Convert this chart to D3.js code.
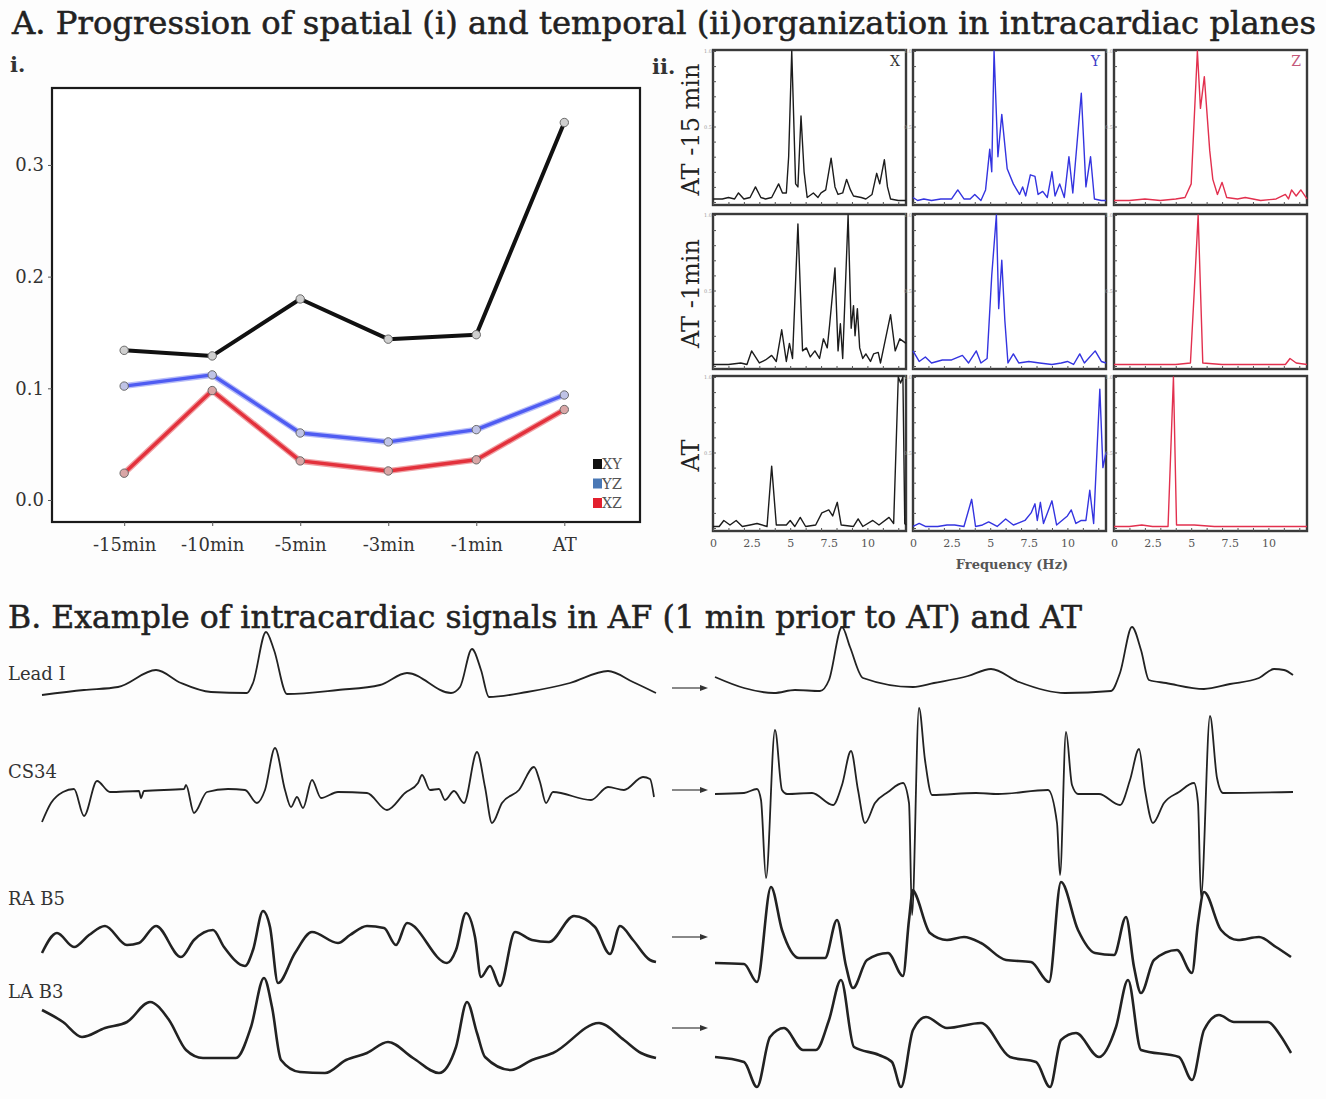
<!DOCTYPE html>
<html>
<head>
<meta charset="utf-8">
<script src="https://cdn.jsdelivr.net/npm/d3@7"></script>
<style>
  body { margin: 0; background: #fff; }
  svg { display: block; }
</style>
</head>
<body>
<div id="figure"></div>
<script>
// GLOBAL DATA
// panel A.i - spatial organization per plane
let TIME_POINTS = ["-15min", "-10min", "-5min", "-3min", "-1min", "AT"]
let XY_VALUES = [0.134, 0.129, 0.180, 0.144, 0.148, 0.338]
let YZ_VALUES = [0.102, 0.112, 0.060, 0.052, 0.063, 0.094]
let XZ_VALUES = [0.024, 0.098, 0.035, 0.026, 0.036, 0.081]
let Y_TICKS = [0.0, 0.1, 0.2, 0.3]
let PLANES = ["XY", "YZ", "XZ"]

// panel A.ii - normalized spectra [Hz, power]
let ROW_LABELS = ["AT -15 min", "AT -1min", "AT"]
let COL_LABELS = ["X", "Y", "Z"]
let FREQ_TICKS = [0, 2.5, 5, 7.5, 10]
let SPEC_M15_X = [[0,0.02],[0.6,0.02],[1.0,0.03],[1.4,0.02],[1.65,0.06],[2.0,0.02],[2.4,0.03],[2.75,0.1],[3.1,0.03],[3.4,0.02],[3.8,0.03],[4.25,0.12],[4.5,0.06],[4.75,0.06],[4.9,0.3],[5.1,1.0],[5.35,0.12],[5.5,0.1],[5.7,0.57],[5.9,0.2],[6.1,0.03],[6.5,0.06],[6.8,0.03],[7.0,0.06],[7.3,0.08],[7.65,0.29],[7.9,0.1],[8.1,0.05],[8.4,0.06],[8.65,0.15],[8.9,0.08],[9.1,0.04],[9.6,0.03],[9.9,0.02],[10.3,0.05],[10.6,0.19],[10.8,0.12],[11.1,0.28],[11.3,0.1],[11.5,0.02],[12.0,0.01],[12.5,0.01]]
let SPEC_M15_Y = [[0,0.03],[0.3,0.01],[0.7,0.02],[1.2,0.01],[1.8,0.02],[2.5,0.02],[2.9,0.08],[3.3,0.02],[3.7,0.02],[4.0,0.05],[4.4,0.01],[4.7,0.08],[4.97,0.35],[5.1,0.2],[5.25,1.0],[5.5,0.3],[5.75,0.58],[6.1,0.22],[6.5,0.12],[6.9,0.05],[7.1,0.1],[7.3,0.04],[7.6,0.18],[7.9,0.17],[8.1,0.05],[8.4,0.07],[8.7,0.03],[9.0,0.2],[9.2,0.04],[9.5,0.12],[9.8,0.03],[10.1,0.3],[10.35,0.06],[10.9,0.72],[11.2,0.1],[11.5,0.3],[11.75,0.02],[12.2,0.01],[12.5,0.01]]
let SPEC_M15_Z = [[0,0.01],[1.0,0.01],[2.0,0.02],[3.0,0.01],[4.0,0.02],[4.6,0.03],[5.0,0.12],[5.4,1.0],[5.6,0.62],[5.85,0.83],[6.2,0.34],[6.4,0.15],[6.7,0.05],[7.0,0.13],[7.3,0.03],[8.0,0.02],[8.5,0.03],[9.5,0.01],[10.5,0.02],[11.1,0.05],[11.3,0.02],[11.5,0.08],[11.8,0.04],[12.1,0.08],[12.5,0.02]]
let SPEC_M1_X = [[0,0.01],[1.0,0.01],[1.8,0.02],[2.2,0.01],[2.5,0.1],[3.0,0.02],[3.4,0.04],[3.8,0.07],[4.1,0.03],[4.45,0.24],[4.75,0.03],[4.95,0.15],[5.15,0.05],[5.5,0.94],[5.8,0.1],[6.05,0.12],[6.3,0.06],[6.6,0.1],[6.9,0.05],[7.15,0.18],[7.4,0.12],[7.55,0.27],[7.9,0.65],[8.1,0.1],[8.25,0.28],[8.4,0.05],[8.75,1.0],[8.95,0.25],[9.1,0.4],[9.2,0.2],[9.35,0.38],[9.5,0.12],[9.7,0.05],[9.9,0.08],[10.2,0.03],[10.4,0.08],[10.7,0.09],[10.85,0.02],[11.5,0.34],[11.8,0.1],[12.1,0.18],[12.5,0.15]]
let SPEC_M1_Y = [[0,0.1],[0.4,0.03],[0.8,0.06],[1.2,0.02],[1.9,0.04],[2.5,0.04],[3.2,0.07],[3.6,0.02],[4.1,0.1],[4.4,0.02],[4.8,0.05],[5.1,0.6],[5.4,1.0],[5.55,0.38],[5.75,0.7],[5.95,0.3],[6.15,0.02],[6.5,0.08],[6.85,0.02],[7.5,0.03],[8.2,0.02],[9.0,0.01],[9.6,0.02],[10.0,0.03],[10.4,0.01],[10.8,0.08],[11.1,0.02],[11.8,0.1],[12.2,0.03],[12.5,0.02]]
let SPEC_M1_Z = [[0,0.01],[2.0,0.01],[4.0,0.01],[4.95,0.02],[5.2,0.5],[5.45,1.0],[5.75,0.02],[7.0,0.01],[9.0,0.01],[11.1,0.01],[11.4,0.05],[11.8,0.02],[12.5,0.01]]
let SPEC_AT_X = [[0,0.01],[0.4,0.01],[0.7,0.05],[1.1,0.02],[1.5,0.05],[1.9,0.01],[2.4,0.02],[2.85,0.03],[3.5,0.01],[3.8,0.41],[4.1,0.02],[4.75,0.02],[5.0,0.05],[5.3,0.01],[5.65,0.07],[6.0,0.01],[6.65,0.02],[7.05,0.1],[7.5,0.12],[7.75,0.08],[8.05,0.17],[8.3,0.02],[9.1,0.01],[9.4,0.06],[9.7,0.01],[10.35,0.05],[10.75,0.02],[11.4,0.07],[11.7,0.03],[12.0,1.0],[12.15,0.96],[12.3,1.0],[12.42,0.03],[12.5,0.02]]
let SPEC_AT_Y = [[0,0.01],[0.4,0.03],[0.8,0.01],[1.6,0.01],[2.2,0.02],[2.7,0.02],[3.3,0.01],[3.8,0.19],[4.05,0.01],[4.5,0.02],[4.9,0.04],[5.45,0.01],[6.0,0.06],[6.5,0.02],[7.25,0.05],[7.65,0.1],[7.9,0.16],[8.05,0.05],[8.25,0.17],[8.45,0.03],[9.0,0.18],[9.3,0.02],[10.0,0.08],[10.25,0.12],[10.55,0.03],[10.9,0.05],[11.2,0.05],[11.45,0.25],[11.7,0.03],[12.1,0.92],[12.3,0.4],[12.5,0.5]]
let SPEC_AT_Z = [[0,0.01],[1.0,0.01],[1.8,0.02],[2.5,0.01],[3.5,0.01],[3.85,1.0],[4.05,0.02],[5.2,0.02],[6.5,0.01],[9.0,0.01],[12.5,0.01]]

// panel B - intracardiac signals [ms, amplitude a.u.]
let TRACE_NAMES = ["Lead I", "CS34", "RA B5", "LA B3"]
let LEADI_AF = [[0,-5],[168,0],[304,3],[456,20],[556,7],[676,-2],[820,-3],[844,7],[896,58],[928,40],[980,-4],[1184,0],[1352,5],[1460,17],[1636,-3],[1672,3],[1720,41],[1756,20],[1788,-7],[1940,-2],[2112,7],[2264,19],[2364,8],[2456,-3]]
let LEADI_AT = [[0,13],[116,2],[236,-3],[320,0],[420,-1],[456,10],[508,63],[540,43],[592,12],[792,3],[876,7],[1012,14],[1104,21],[1216,8],[1400,-3],[1584,-1],[1620,17],[1668,63],[1704,40],[1736,10],[1804,7],[1956,1],[2060,6],[2176,12],[2236,21],[2276,20],[2312,15]]
let CS34_AF = [[0,-30],[36,-11],[84,0],[128,3],[168,-24],[220,11],[272,0],[388,1],[396,-6],[408,1],[568,3],[576,7],[608,-21],[660,0],[744,3],[812,2],[860,-11],[892,2],[932,44],[972,2],[996,-15],[1020,-5],[1044,-16],[1080,12],[1116,-6],[1184,0],[1300,-1],[1380,-18],[1452,-1],[1504,9],[1520,17],[1552,2],[1588,3],[1612,-8],[1648,1],[1688,-11],[1740,40],[1772,5],[1800,-31],[1840,-11],[1908,2],[1968,25],[1992,10],[2016,-11],[2044,0],[2196,-8],[2264,5],[2328,2],[2404,15],[2432,13],[2448,-5]]
let CS34_AT = [[0,-2],[116,-1],[168,3],[184,-8],[204,-86],[240,62],[268,2],[288,-2],[388,-1],[472,-13],[508,7],[544,41],[572,2],[600,-31],[640,-11],[692,0],[752,9],[776,-11],[788,-123],[816,84],[840,32],[868,-3],[1044,-1],[1132,-2],[1332,2],[1368,-31],[1380,-83],[1404,60],[1428,7],[1452,-2],[1536,-2],[1620,-13],[1660,12],[1696,43],[1720,2],[1752,-31],[1796,-11],[1856,0],[1916,9],[1932,-11],[1944,-105],[1980,76],[2008,14],[2032,-1],[2312,0]]
let RAB5_AF = [[0,-8],[60,12],[128,-2],[188,10],[252,19],[340,0],[388,2],[456,19],[556,-12],[608,5],[684,15],[728,-2],[812,-21],[844,-5],[884,34],[912,18],[944,-38],[1012,-8],[1080,13],[1184,2],[1232,10],[1300,19],[1368,17],[1416,0],[1460,22],[1620,-18],[1656,-5],[1696,32],[1732,8],[1756,-32],[1792,-21],[1832,-41],[1892,13],[1960,5],[2028,3],[2128,29],[2212,18],[2272,-9],[2312,19],[2364,5],[2432,-15],[2456,-17]]
let RAB5_AT = [[0,-18],[116,-19],[168,-37],[224,58],[268,15],[336,-13],[440,-13],[488,25],[524,-21],[552,-43],[608,-15],[692,-8],[752,-31],[776,25],[792,55],[800,52],[860,12],[928,5],[996,8],[1064,2],[1164,-15],[1264,-17],[1336,-37],[1384,63],[1452,15],[1520,-8],[1596,-10],[1644,28],[1676,-22],[1704,-48],[1756,-15],[1848,-5],[1908,-28],[1932,22],[1956,53],[2024,15],[2092,5],[2176,8],[2244,-2],[2304,-12]]
let LAB3_AF = [[0,30],[84,18],[160,3],[252,12],[340,18],[432,38],[508,20],[576,-10],[644,-18],[776,-18],[836,13],[888,62],[920,33],[956,-20],[1032,-32],[1132,-33],[1216,-20],[1300,-13],[1384,-2],[1484,-18],[1588,-33],[1656,-7],[1700,38],[1740,7],[1772,-17],[1876,-30],[1960,-20],[2044,-13],[2228,17],[2328,0],[2396,-13],[2456,-18]]
let LAB3_AT = [[0,-17],[116,-22],[168,-47],[220,3],[276,12],[352,-10],[404,-10],[456,20],[504,60],[556,-7],[656,-15],[708,-22],[744,-47],[792,10],[844,23],[928,12],[1064,17],[1180,-17],[1284,-22],[1340,-47],[1384,0],[1444,7],[1536,-17],[1604,13],[1652,60],[1704,-10],[1856,-17],[1908,-40],[1956,10],[2016,25],[2076,18],[2212,18],[2260,5],[2304,-13]]

const FONT = "'DejaVu Serif', 'Liberation Serif', serif"
const PLANE_COLORS = { XY: "#111111", YZ: "#4f5cf2", XZ: "#e3313c" }
const LEGEND_COLORS = { XY: "#111111", YZ: "#4a78b5", XZ: "#e3202e" }
const SPEC_COLORS = ["#1c1c1c", "#3434e0", "#e2304e"]

let svg = d3.select("#figure")
    .append("svg")
    .attr("width", 1326)
    .attr("height", 1099)
    .style("font-family", FONT)

svg.append("rect").attr("width", 1326).attr("height", 1099).attr("fill", "#fdfdfd")

// titles
function addTitle(txt, x, y, len) {
    svg.append("text")
        .attr("x", x).attr("y", y)
        .attr("textLength", len)
        .attr("lengthAdjust", "spacingAndGlyphs")
        .style("font-size", "31px")
        .style("fill", "#222")
        .style("stroke", "#222")
        .style("stroke-width", 0.5)
        .text(txt)
}
addTitle("A. Progression of spatial (i) and temporal (ii)organization in intracardiac planes", 12, 34, 1304)
addTitle("B. Example of intracardiac signals in AF (1 min prior to AT) and AT", 8, 628, 1074)

svg.append("text").attr("x", 10).attr("y", 72).style("font-size", "21px").style("font-weight", "bold").style("fill", "#333").text("i.")
svg.append("text").attr("x", 652).attr("y", 74).style("font-size", "21px").style("font-weight", "bold").style("fill", "#333").text("ii.")

// ---------- PANEL A.i ----------
function drawSpatial() {
    let x = d3.scaleLinear().domain([-0.82, 5.86]).range([52, 640])
    let y = d3.scaleLinear().domain([-0.0197, 0.3689]).range([522, 88])
    let g = svg.append("g")

    g.append("rect")
        .attr("x", x(-0.82)).attr("y", y(0.3689))
        .attr("width", x(5.86) - x(-0.82)).attr("height", y(-0.0197) - y(0.3689))
        .attr("fill", "#fff").attr("stroke", "#1a1a1a").attr("stroke-width", 2.2)

    let yAxis = g.append("g")
        .attr("transform", "translate(" + x(-0.82) + ",0)")
        .call(d3.axisLeft(y).tickValues(Y_TICKS).tickFormat(d3.format(".1f")).tickSize(4).tickPadding(4))
    yAxis.select(".domain").remove()
    yAxis.selectAll("text").style("font-size", "18px").style("font-family", FONT).style("fill", "#333")
    yAxis.selectAll("line").attr("stroke", "#555")

    let xAxis = g.append("g")
        .attr("transform", "translate(0," + y(-0.0197) + ")")
        .call(d3.axisBottom(x).tickValues(d3.range(TIME_POINTS.length)).tickFormat(function (i) { return TIME_POINTS[i] }).tickSize(4).tickPadding(12))
    xAxis.select(".domain").remove()
    xAxis.selectAll("text").style("font-size", "18px").style("font-family", FONT).style("fill", "#333")
    xAxis.selectAll("line").attr("stroke", "#555")

    let series = [
        { name: "XY", values: XY_VALUES },
        { name: "YZ", values: YZ_VALUES },
        { name: "XZ", values: XZ_VALUES }
    ]
    let line = d3.line()
        .x(function (d, i) { return x(i) })
        .y(function (d) { return y(d) })

    // soft halo under coloured lines
    g.selectAll("halo").data(series.filter(function (d) { return d.name != "XY" }))
        .enter().append("path")
        .attr("d", function (d) { return line(d.values) })
        .attr("fill", "none")
        .attr("stroke", function (d) { return d.name == "YZ" ? "#b8bdf8" : "#f0a0a4" })
        .attr("stroke-width", 6)
        .attr("stroke-linejoin", "round")

    g.selectAll("myLines").data(series)
        .enter().append("path")
        .attr("d", function (d) { return line(d.values) })
        .attr("fill", "none")
        .attr("stroke", function (d) { return PLANE_COLORS[d.name] })
        .attr("stroke-width", function (d) { return d.name == "XY" ? 4 : 3.4 })
        .attr("stroke-linejoin", "round")

    g.selectAll("myDots").data(series)
        .enter().append("g")
        .selectAll("circle")
        .data(function (d) { return d.values.map(function (v, i) { return { i: i, v: v, name: d.name } }) })
        .enter().append("circle")
        .attr("cx", function (d) { return x(d.i) })
        .attr("cy", function (d) { return y(d.v) })
        .attr("r", 4.2)
        .attr("fill", function (d) { return d.name == "XZ" ? "#d9a6a6" : (d.name == "YZ" ? "#bfc3e6" : "#cfcfcf") })
        .attr("stroke", "#6a6a6a")
        .attr("stroke-width", 1)

    // legend
    let legend = g.selectAll("myLegend").data(PLANES)
        .enter().append("g")
        .attr("transform", function (d, i) { return "translate(593," + (459 + i * 19.5) + ")" })
    legend.append("rect").attr("width", 9).attr("height", 10).attr("fill", function (d) { return LEGEND_COLORS[d] })
    legend.append("text").attr("x", 9).attr("y", 10).attr("textLength", 20).attr("lengthAdjust", "spacingAndGlyphs")
        .style("font-size", "14px").style("fill", "#555").text(function (d) { return d })
}

// ---------- PANEL A.ii ----------
function drawSpectra() {
    let spectra = [
        [SPEC_M15_X, SPEC_M15_Y, SPEC_M15_Z],
        [SPEC_M1_X, SPEC_M1_Y, SPEC_M1_Z],
        [SPEC_AT_X, SPEC_AT_Y, SPEC_AT_Z]
    ]
    let colX = [713, 913, 1114], rowY = [50, 214, 376]
    let w = 193, h = 155

    for (let r = 0; r < 3; r++) {
        svg.append("text")
            .attr("transform", "translate(699," + (rowY[r] + h / 2 + 2) + ") rotate(-90)")
            .attr("text-anchor", "middle")
            .style("font-size", "24px")
            .style("fill", "#222")
            .text(ROW_LABELS[r])

        for (let c = 0; c < 3; c++) {
            let x = d3.scaleLinear().domain([0, 12.5]).range([colX[c], colX[c] + w])
            let y = d3.scaleLinear().domain([0, 1]).range([rowY[r] + h - 3, rowY[r] + 1])
            let g = svg.append("g")

            g.append("rect").attr("x", colX[c]).attr("y", rowY[r]).attr("width", w).attr("height", h)
                .attr("fill", "#fff").attr("stroke", "#3a3a3a").attr("stroke-width", 2.4)

            // small inward ticks on the frame
            let bx = g.append("g").attr("transform", "translate(0," + (rowY[r] + h) + ")")
                .call(d3.axisTop(x).ticks(10).tickSize(3).tickFormat(""))
            bx.select(".domain").remove()
            bx.selectAll("line").attr("stroke", "#555")
            let ly = g.append("g").attr("transform", "translate(" + colX[c] + ",0)")
                .call(d3.axisRight(y).ticks(10).tickSize(3).tickFormat(""))
            ly.select(".domain").remove()
            ly.selectAll("line").attr("stroke", "#555")

            // tiny y labels
            g.selectAll("tinyY").data([0.5, 1.0]).enter().append("text")
                .attr("x", colX[c] - 1).attr("y", function (d) { return y(d) + 2 })
                .attr("text-anchor", "end")
                .style("font-size", "5px").style("fill", "#999")
                .text(function (d) { return d.toFixed(1) })

            let line = d3.line()
                .x(function (d) { return x(d[0]) })
                .y(function (d) { return y(d[1]) })
            g.append("path")
                .attr("d", line(spectra[r][c]))
                .attr("fill", "none")
                .attr("stroke", SPEC_COLORS[c])
                .attr("stroke-width", 1.4)
                .attr("stroke-linejoin", "round")

            if (r == 0) {
                g.append("text").attr("x", colX[c] + w - 6).attr("y", rowY[r] + 16)
                    .attr("text-anchor", "end")
                    .style("font-size", "14px")
                    .style("fill", c == 0 ? "#333" : (c == 1 ? "#3c3cc8" : "#c4587a"))
                    .text(COL_LABELS[c])
            }
            if (r == 2) {
                let ax = g.append("g").attr("transform", "translate(0," + (rowY[r] + h) + ")")
                    .call(d3.axisBottom(x).tickValues(FREQ_TICKS).tickFormat(function (d) { return String(d) }).tickSize(0).tickPadding(8))
                ax.select(".domain").remove()
                ax.selectAll("text").style("font-size", "11px").style("font-family", FONT).style("fill", "#555")
            }
        }
    }
    svg.append("text").attr("x", 1012).attr("y", 569).attr("text-anchor", "middle")
        .style("font-size", "13px").style("font-weight", "bold").style("fill", "#555")
        .text("Frequency (Hz)")
}

// ---------- PANEL B ----------
function drawSignals() {
    let xAF = d3.scaleLinear().domain([0, 2456]).range([42, 656])
    let xAT = d3.scaleLinear().domain([0, 2340]).range([715, 1300])
    let traces = [
        { name: "Lead I", af: LEADI_AF, at: LEADI_AT, base: 690, labelY: 680, arrowY: 688, width: 1.8 },
        { name: "CS34", af: CS34_AF, at: CS34_AT, base: 792, labelY: 778, arrowY: 790, width: 1.8 },
        { name: "RA B5", af: RAB5_AF, at: RAB5_AT, base: 945, labelY: 905, arrowY: 937, width: 2.6 },
        { name: "LA B3", af: LAB3_AF, at: LAB3_AT, base: 1040, labelY: 998, arrowY: 1028, width: 2.6 }
    ]
    traces.forEach(function (t, i) {
        let y = d3.scaleLinear().domain([-100, 100]).range([t.base + 100, t.base - 100])
        svg.append("text").attr("x", 8).attr("y", t.labelY)
            .style("font-size", "18px").style("fill", "#333").text(TRACE_NAMES[i])

        let lineAF = d3.line().curve(d3.curveMonotoneX).x(function (d) { return xAF(d[0]) }).y(function (d) { return y(d[1]) })
        let lineAT = d3.line().curve(d3.curveMonotoneX).x(function (d) { return xAT(d[0]) }).y(function (d) { return y(d[1]) })
        svg.append("path").attr("d", lineAF(t.af)).attr("fill", "none")
            .attr("stroke", "#222").attr("stroke-width", t.width).attr("stroke-linejoin", "round")
        svg.append("path").attr("d", lineAT(t.at)).attr("fill", "none")
            .attr("stroke", "#222").attr("stroke-width", t.width).attr("stroke-linejoin", "round")

        // arrow between the two strips
        let ax0 = xAT(-172), ax1 = xAT(-44)
        svg.append("line").attr("x1", ax0).attr("x2", ax1).attr("y1", t.arrowY).attr("y2", t.arrowY)
            .attr("stroke", "#555").attr("stroke-width", 1.4)
        svg.append("path")
            .attr("d", "M" + (ax1 + 4) + "," + t.arrowY + "L" + (ax1 - 4) + "," + (t.arrowY - 3) + "L" + (ax1 - 4) + "," + (t.arrowY + 3) + "Z")
            .attr("fill", "#333")
    })
}

drawSpatial()
drawSpectra()
drawSignals()
</script>
</body>
</html>
